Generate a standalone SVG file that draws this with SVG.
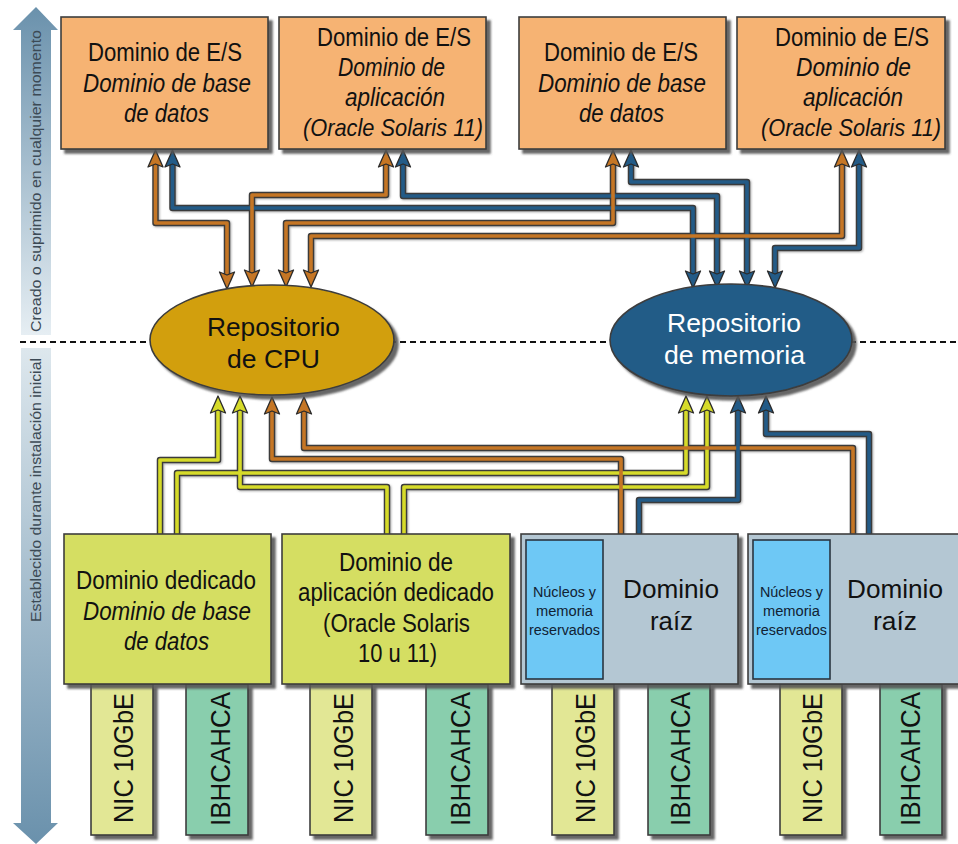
<svg xmlns="http://www.w3.org/2000/svg" width="958" height="844" viewBox="0 0 958 844">
<style>
text{font-family:"Liberation Sans",Arial,sans-serif;fill:#111;text-anchor:middle}
.t{font-size:25.5px}
.i{font-style:italic}
.sol{font-size:24px}
.s{font-size:15.5px;fill:#123}
.v{font-size:27px;text-anchor:start}
.side{font-size:14.5px;fill:#3c4a55;text-anchor:start}
.box{stroke:#3d3d3d;stroke-width:1.6;filter:url(#sh)}
.io{fill:#F6B373}.ded{fill:#D5DE62}.root{fill:#B4C7D3}.res{fill:#6EC8F5;stroke:#2a3540;stroke-width:1.6}
.nic{fill:#E2E795}.ib{fill:#89CEAD}
.out{fill:none;stroke:#3a3a3a;stroke-width:6.5;stroke-linejoin:round}
.in{fill:none;stroke-width:3.6;stroke-linejoin:round}
.o{stroke:#C57625}.b{stroke:#235B87}.y{stroke:#D6DB2A}
.om{marker-start:url(#mo);marker-end:url(#mo)}
.bm{marker-start:url(#mb);marker-end:url(#mb)}
.ym{marker-end:url(#my)}.ob{marker-end:url(#mo)}.bb{marker-end:url(#mb)}
</style>
<defs>
<filter id="sh" x="-10%" y="-10%" width="125%" height="125%"><feDropShadow dx="4" dy="4" stdDeviation="1.2" flood-color="#555" flood-opacity="0.9"/></filter>
<filter id="ls" x="-5%" y="-5%" width="110%" height="110%"><feDropShadow dx="1" dy="1" stdDeviation="1" flood-color="#777" flood-opacity="0.6"/></filter>
<linearGradient id="gu" x1="0" y1="0" x2="0" y2="1"><stop offset="0" stop-color="#6A91AC"/><stop offset="1" stop-color="#E6EEF3"/></linearGradient>
<linearGradient id="gd" x1="0" y1="0" x2="0" y2="1"><stop offset="0" stop-color="#DDE7ED"/><stop offset="1" stop-color="#6A91AC"/></linearGradient>
<marker id="mo" markerUnits="userSpaceOnUse" markerWidth="20" markerHeight="20" viewBox="0 0 20 20" refX="9" refY="10" orient="auto-start-reverse"><path d="M1 2.500L18 10L1 17.500L4 10Z" fill="#C57625" stroke="#2a2a2a" stroke-width="1.3" stroke-linejoin="round"/></marker>
<marker id="mb" markerUnits="userSpaceOnUse" markerWidth="20" markerHeight="20" viewBox="0 0 20 20" refX="9" refY="10" orient="auto-start-reverse"><path d="M1 2.500L18 10L1 17.500L4 10Z" fill="#235B87" stroke="#2a2a2a" stroke-width="1.3" stroke-linejoin="round"/></marker>
<marker id="my" markerUnits="userSpaceOnUse" markerWidth="20" markerHeight="20" viewBox="0 0 20 20" refX="9" refY="10" orient="auto-start-reverse"><path d="M1 2.500L18 10L1 17.500L4 10Z" fill="#D6DB2A" stroke="#2a2a2a" stroke-width="1.3" stroke-linejoin="round"/></marker>
</defs>

<g id="side-arrows">
<polygon points="36,7 58,30 51,30 51,335 21,335 21,30 13,30" fill="url(#gu)"/>
<polygon points="21,348 51,348 51,823 58,823 36,844 13,823 21,823" fill="url(#gd)"/>
<text class="side" transform="translate(41 332) rotate(-90)" textLength="302" lengthAdjust="spacingAndGlyphs">Creado o suprimido en cualquier momento</text>
<text class="side" transform="translate(41 622) rotate(-90)" textLength="264" lengthAdjust="spacingAndGlyphs">Establecido durante instalación inicial</text>
</g>

<path id="divider" d="M20 342H958" fill="none" stroke="#111" stroke-width="2" stroke-dasharray="6 4"/>

<g id="connectors">
<g filter="url(#ls)">
<path class="out" d="M155.500 159V223H227V280"/>
<path class="out" d="M172.500 159V208H693V279"/>
<path class="out" d="M386 159V195H252V278"/>
<path class="out" d="M403 159V196H717V279"/>
<path class="out" d="M613 159V223H286V278"/>
<path class="out" d="M631 159V182H747V279"/>
<path class="out" d="M842 159V236H311V278"/>
<path class="out" d="M859 159V248H775V279"/>
<path class="out" d="M160 534V460H218V405"/>
<path class="out" d="M177 534V473H686V405"/>
<path class="out" d="M387 534V487H240V405"/>
<path class="out" d="M404 534V487H707V405"/>
<path class="out" d="M621 534V459H272V406"/>
<path class="out" d="M853 534V448H304V406"/>
<path class="out" d="M639 534V500H738V405"/>
<path class="out" d="M869 534V434H766V405"/>
</g>
<path class="in o om" d="M155.500 159V223H227V280"/>
<path class="in b bm" d="M172.500 159V208H693V279"/>
<path class="in o om" d="M386 159V195H252V278"/>
<path class="in b bm" d="M403 159V196H717V279"/>
<path class="in o om" d="M613 159V223H286V278"/>
<path class="in b bm" d="M631 159V182H747V279"/>
<path class="in o om" d="M842 159V236H311V278"/>
<path class="in b bm" d="M859 159V248H775V279"/>
<path class="in y ym" d="M160 534V460H218V405"/>
<path class="in y ym" d="M177 534V473H686V405"/>
<path class="in y ym" d="M387 534V487H240V405"/>
<path class="in y ym" d="M404 534V487H707V405"/>
<path class="in o ob" d="M621 534V459H272V406"/>
<path class="in o ob" d="M853 534V448H304V406"/>
<path class="in b bb" d="M639 534V500H738V405"/>
<path class="in b bb" d="M869 534V434H766V405"/>
</g>

<g id="io-1"><rect class="box io" x="61" y="17" width="207" height="132"/>
<text class="t" x="165" y="61" textLength="154" lengthAdjust="spacingAndGlyphs">Dominio de E/S</text>
<text class="t i" x="167" y="92" textLength="168" lengthAdjust="spacingAndGlyphs">Dominio de base</text>
<text class="t i" x="166.500" y="122" textLength="85" lengthAdjust="spacingAndGlyphs">de datos</text></g>
<g id="io-2"><rect class="box io" x="279" y="17" width="207" height="132"/>
<text class="t" x="394" y="46" textLength="154" lengthAdjust="spacingAndGlyphs">Dominio de E/S</text>
<text class="t i" x="391.500" y="76" textLength="107" lengthAdjust="spacingAndGlyphs">Dominio de</text>
<text class="t i" x="395" y="106" textLength="100" lengthAdjust="spacingAndGlyphs">aplicación</text>
<text class="sol i" x="393" y="136" textLength="180" lengthAdjust="spacingAndGlyphs">(Oracle Solaris 11)</text></g>
<g id="io-3"><rect class="box io" x="519" y="17" width="207" height="132"/>
<text class="t" x="621" y="61" textLength="154" lengthAdjust="spacingAndGlyphs">Dominio de E/S</text>
<text class="t i" x="622" y="92" textLength="168" lengthAdjust="spacingAndGlyphs">Dominio de base</text>
<text class="t i" x="621.500" y="122" textLength="85" lengthAdjust="spacingAndGlyphs">de datos</text></g>
<g id="io-4"><rect class="box io" x="737" y="17" width="208" height="132"/>
<text class="t" x="852" y="46" textLength="154" lengthAdjust="spacingAndGlyphs">Dominio de E/S</text>
<text class="t i" x="853.500" y="76" textLength="115" lengthAdjust="spacingAndGlyphs">Dominio de</text>
<text class="t i" x="853" y="106" textLength="100" lengthAdjust="spacingAndGlyphs">aplicación</text>
<text class="sol i" x="851" y="136" textLength="180" lengthAdjust="spacingAndGlyphs">(Oracle Solaris 11)</text></g>

<g id="cpu-pool"><ellipse class="box" cx="272" cy="340" rx="122" ry="55" fill="#D29F0F"/>
<text class="t" x="273.500" y="336" textLength="133" lengthAdjust="spacingAndGlyphs">Repositorio</text>
<text class="t" x="273.500" y="368" textLength="93" lengthAdjust="spacingAndGlyphs">de CPU</text></g>
<g id="memory-pool"><ellipse class="box" cx="731" cy="340" rx="121" ry="56" fill="#235B87"/>
<text class="t" style="fill:#fff" x="734" y="332" textLength="134" lengthAdjust="spacingAndGlyphs">Repositorio</text>
<text class="t" style="fill:#fff" x="734.500" y="364" textLength="141" lengthAdjust="spacingAndGlyphs">de memoria</text></g>

<g id="cards">
<g id="nic-1"><rect class="box nic" x="91" y="684" width="62" height="151"/><text class="v" transform="translate(133 823) rotate(-90)" textLength="130" lengthAdjust="spacingAndGlyphs">NIC 10GbE</text></g>
<g id="ib-1"><rect class="box ib" x="186" y="684" width="62" height="151"/><text class="v" transform="translate(230 826) rotate(-90)" textLength="134" lengthAdjust="spacingAndGlyphs">IBHCAHCA</text></g>
<g id="nic-2"><rect class="box nic" x="310" y="684" width="62" height="151"/><text class="v" transform="translate(353 823) rotate(-90)" textLength="130" lengthAdjust="spacingAndGlyphs">NIC 10GbE</text></g>
<g id="ib-2"><rect class="box ib" x="426" y="684" width="62" height="151"/><text class="v" transform="translate(470 826) rotate(-90)" textLength="134" lengthAdjust="spacingAndGlyphs">IBHCAHCA</text></g>
<g id="nic-3"><rect class="box nic" x="552" y="684" width="62" height="151"/><text class="v" transform="translate(595 823) rotate(-90)" textLength="130" lengthAdjust="spacingAndGlyphs">NIC 10GbE</text></g>
<g id="ib-3"><rect class="box ib" x="648" y="684" width="62" height="151"/><text class="v" transform="translate(690 826) rotate(-90)" textLength="134" lengthAdjust="spacingAndGlyphs">IBHCAHCA</text></g>
<g id="nic-4"><rect class="box nic" x="780" y="684" width="62" height="151"/><text class="v" transform="translate(822 823) rotate(-90)" textLength="130" lengthAdjust="spacingAndGlyphs">NIC 10GbE</text></g>
<g id="ib-4"><rect class="box ib" x="880" y="684" width="62" height="151"/><text class="v" transform="translate(920 826) rotate(-90)" textLength="134" lengthAdjust="spacingAndGlyphs">IBHCAHCA</text></g>
</g>

<g id="dedicated-1"><rect class="box ded" x="64" y="534" width="207" height="150"/>
<text class="t" x="166" y="589" textLength="180" lengthAdjust="spacingAndGlyphs">Dominio dedicado</text>
<text class="t i" x="167" y="620" textLength="168" lengthAdjust="spacingAndGlyphs">Dominio de base</text>
<text class="t i" x="166.500" y="650" textLength="85" lengthAdjust="spacingAndGlyphs">de datos</text></g>
<g id="dedicated-2"><rect class="box ded" x="282" y="534" width="228" height="150"/>
<text class="t" x="396" y="571" textLength="114" lengthAdjust="spacingAndGlyphs">Dominio de</text>
<text class="t" x="396" y="601" textLength="196" lengthAdjust="spacingAndGlyphs">aplicación dedicado</text>
<text class="t" x="396.500" y="632" textLength="147" lengthAdjust="spacingAndGlyphs">(Oracle Solaris</text>
<text class="t" x="397.500" y="662" textLength="79" lengthAdjust="spacingAndGlyphs">10 u 11)</text></g>
<g id="root-1"><rect class="box root" x="521" y="534" width="217" height="150"/>
<rect class="res" x="526" y="540" width="77" height="139"/>
<text class="s" x="564.500" y="597" textLength="63" lengthAdjust="spacingAndGlyphs">Núcleos y</text>
<text class="s" x="564.500" y="616" textLength="57" lengthAdjust="spacingAndGlyphs">memoria</text>
<text class="s" x="564.500" y="635" textLength="71" lengthAdjust="spacingAndGlyphs">reservados</text>
<text class="t" x="671" y="598" textLength="96" lengthAdjust="spacingAndGlyphs">Dominio</text>
<text class="t" x="671.500" y="630" textLength="43" lengthAdjust="spacingAndGlyphs">raíz</text></g>
<g id="root-2"><rect class="box root" x="748" y="534" width="216" height="150"/>
<rect class="res" x="753" y="540" width="77" height="139"/>
<text class="s" x="791.500" y="597" textLength="63" lengthAdjust="spacingAndGlyphs">Núcleos y</text>
<text class="s" x="791.500" y="616" textLength="57" lengthAdjust="spacingAndGlyphs">memoria</text>
<text class="s" x="791.500" y="635" textLength="71" lengthAdjust="spacingAndGlyphs">reservados</text>
<text class="t" x="895" y="598" textLength="96" lengthAdjust="spacingAndGlyphs">Dominio</text>
<text class="t" x="895" y="630" textLength="44" lengthAdjust="spacingAndGlyphs">raíz</text></g>
</svg>
